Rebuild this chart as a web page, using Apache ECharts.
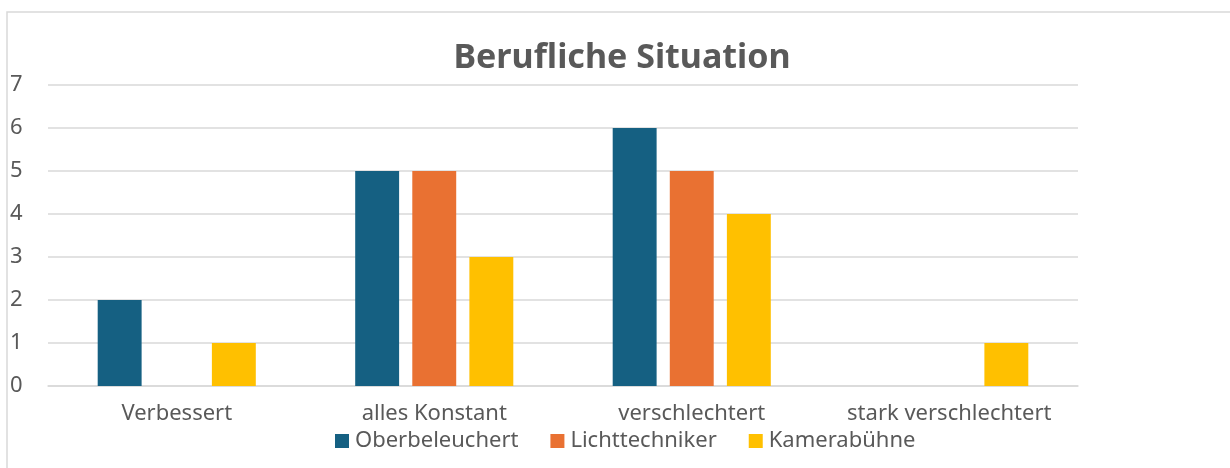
<!DOCTYPE html>
<html>
<head>
<meta charset="utf-8">
<script src="https://cdn.jsdelivr.net/npm/echarts@6/dist/echarts.min.js"></script>
<style>
  html, body { margin: 0; padding: 0; background: #fff; }
  #chart { width: 1230px; height: 468px; }
</style>
</head>
<body>
<div id="chart"></div>
<script>
const categories = ['Verbessert', 'alles Konstant', 'verschlechtert', 'stark verschlechtert']
const oberbeleuchert = [2, 5, 6, 0]
const lichttechniker = [0, 5, 5, 0]
const kamerabuehne = [1, 3, 4, 1]
const seriesNames = ['Oberbeleuchert', 'Lichttechniker', 'Kamerabühne']
const colors = ['#156082', '#e97132', '#ffc000']

const font = 'Noto Sans'
const textColor = '#595959'

var chartDom = document.getElementById('chart');
var myChart = echarts.init(chartDom);

var option = {
    animation: false,
    color: colors,
    graphic: [{
        type: 'rect',
        shape: { x: 7, y: 12, width: 1250, height: 480 },
        style: { fill: 'none', stroke: '#d9d9d9', lineWidth: 1.5 }
    }],
    title: {
        text: 'Berufliche Situation',
        left: 617,
        top: 36,
        textAlign: 'center',
        textStyle: {
            color: textColor,
            fontFamily: font,
            fontSize: 34,
            fontWeight: 'bold'
        }
    },
    legend: {
        data: seriesNames,
        left: 330,
        top: 425,
        itemWidth: 14,
        itemHeight: 14,
        itemGap: 32,
        icon: 'rect',
        textStyle: {
            color: textColor,
            fontFamily: font,
            fontSize: 22,
            padding: [0, 0, 0, 1]
        }
    },
    grid: {
        left: 48,
        right: 152,
        top: 85,
        bottom: 82
    },
    xAxis: {
        type: 'category',
        data: categories,
        axisTick: { show: false },
        axisLine: { lineStyle: { color: '#d9d9d9', width: 1.5 } },
        axisLabel: {
            interval: 0,
            hideOverlap: false,
            color: textColor,
            fontFamily: font,
            fontSize: 22,
            margin: 17
        }
    },
    yAxis: {
        type: 'value',
        min: 0,
        max: 7,
        interval: 1,
        axisLabel: {
            color: textColor,
            fontFamily: font,
            fontSize: 22,
            align: 'left',
            margin: 38
        },
        splitLine: { lineStyle: { color: '#d9d9d9', width: 1.5 } }
    },
    series: [
        {
            name: seriesNames[0],
            type: 'bar',
            data: oberbeleuchert,
            barGap: '30%',
            barCategoryGap: '38.6%'
        },
        {
            name: seriesNames[1],
            type: 'bar',
            data: lichttechniker
        },
        {
            name: seriesNames[2],
            type: 'bar',
            data: kamerabuehne
        }
    ]
};

option && myChart.setOption(option);
</script>
</body>
</html>
